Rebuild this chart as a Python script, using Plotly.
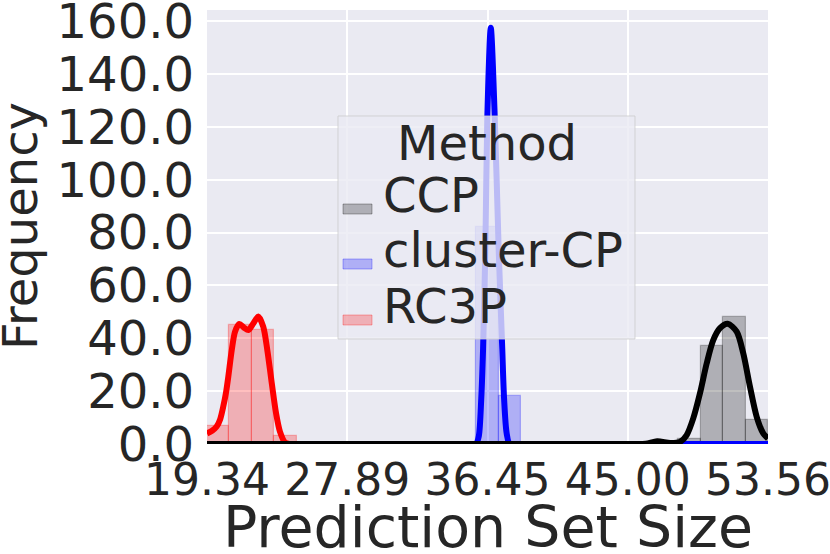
import numpy as np
import plotly.graph_objects as go

# ---------------- data ----------------
methods = ["CCP", "cluster-CP", "RC3P"]
line_colors = {"CCP": "#000000", "cluster-CP": "#0000FF", "RC3P": "#FF0000"}
fill_rgb = {"CCP": (0, 0, 0), "cluster-CP": (0, 0, 255), "RC3P": (255, 0, 0)}

x_min, x_max = 19.34, 53.56
n_bins = 25
x_tick_labels = ["19.34", "27.89", "36.45", "45.00", "53.56"]
y_tick_values = [0, 20, 40, 60, 80, 100, 120, 140, 160]
x_title = "Prediction Set Size"
y_title = "Frequency"
legend_title = "Method"

# histogram counts (per common bin, index -> count)
counts_ccp = {21: 2, 22: 37, 23: 48, 24: 9}
counts_cluster = {12: 82, 13: 18}
counts_rc3p = {0: 7, 1: 45, 2: 43, 3: 3}

# KDE curves
kde_ccp_x = [19.34, 30.0, 40.0, 44.5, 45.4, 46.1, 46.8, 47.6, 48.19, 48.6, 49.0, 49.41, 49.82,
             50.22, 50.63, 51.1, 51.65, 52.05, 52.46, 52.87, 53.27, 53.56]
kde_ccp_y = [0, 0, 0, 0, 0, 0.1, 1.0, 0.4, 0.8, 3.4, 9.7, 19.2, 30.5,
             39.3, 43.8, 45.5, 42.5, 34.3, 21.7, 10.3, 4.0, 2.1]

kde_cluster_x = [19.34, 28.0, 34.0, 35.2, 35.75, 35.92, 36.07, 36.18, 36.32, 36.44, 36.65,
                 36.89, 37.13, 37.35, 37.46, 37.62, 37.8, 38.3, 39.5, 46.0, 53.56]
kde_cluster_y = [0, 0, 0, 0, 0.1, 3, 17.3, 36, 74, 124, 157.5,
                 124, 74, 36, 17.3, 4, 0.1, 0, 0, 0, 0]

kde_rc3p_x = [19.34, 19.65, 19.93, 20.15, 20.33, 20.5, 20.64, 20.85, 21.05, 21.31, 21.6,
              21.86, 22.15, 22.47, 22.77, 23.02, 23.29, 23.55, 23.79, 24.10, 24.35, 24.9,
              26.0, 35.0, 45.0, 53.56]
kde_rc3p_y = [4.0, 5.0, 6.6, 9.5, 14.1, 19.5, 25.5, 35.5, 42.5, 45.4, 44.0,
              43.1, 45.5, 48.2, 44.4, 35.5, 23.0, 11.7, 4.7, 0.6, 0.05, 0,
              0, 0, 0, 0]

counts = {"CCP": counts_ccp, "cluster-CP": counts_cluster, "RC3P": counts_rc3p}
kdes = {"CCP": (kde_ccp_x, kde_ccp_y), "cluster-CP": (kde_cluster_x, kde_cluster_y),
        "RC3P": (kde_rc3p_x, kde_rc3p_y)}

# ---------------- figure ----------------
W, H = 830, 554
ML, MR, MT, MB = 207, 62, 10, 110
pw, ph = W - ML - MR, H - MT - MB


def px_x(p):
    return (p - ML) / pw


def px_y(p):
    return (H - MB - p) / ph


edges = np.linspace(x_min, x_max, n_bins + 1)
bw = edges[1] - edges[0]
centers = (edges[:-1] + edges[1:]) / 2

fig = go.Figure()
draw_order = ["RC3P", "cluster-CP", "CCP"]
for m in draw_order:
    r, g, b = fill_rgb[m]
    idx = sorted(counts[m].keys())
    fig.add_trace(go.Bar(
        x=[centers[i] for i in idx], y=[counts[m][i] for i in idx], width=bw,
        marker=dict(color=f"rgba({r},{g},{b},0.25)", line=dict(color=f"rgba({r},{g},{b},0.25)", width=1.2)),
        showlegend=False, name=m))
for m in draw_order:
    xs, ys = kdes[m]
    fig.add_trace(go.Scatter(x=xs, y=ys, mode="lines",
                             line=dict(color=line_colors[m], width=6, shape="spline", smoothing=0.8),
                             showlegend=False, name=m))

font_color = "#262626"
fig.update_layout(
    width=W, height=H,
    margin=dict(l=ML, r=MR, t=MT, b=MB, pad=0),
    paper_bgcolor="white", plot_bgcolor="#EAEAF2",
    barmode="overlay", bargap=0,
    font=dict(family="DejaVu Sans", color=font_color),
    xaxis=dict(range=[x_min, x_max], tickvals=list(np.linspace(x_min, x_max, 5)),
               ticktext=x_tick_labels, tickfont=dict(size=44, color=font_color),
               showgrid=True, gridcolor="white", gridwidth=2, zeroline=False, showline=False,
               ticks="", ticklabelstandoff=6, automargin=False, ticklabeloverflow="allow"),
    yaxis=dict(range=[0, 164.2], tickvals=y_tick_values, tickformat=".1f",
               tickfont=dict(size=48, color=font_color),
               showgrid=True, gridcolor="white", gridwidth=2, zeroline=False, showline=False,
               ticks="", ticklabelstandoff=12, automargin=False, ticklabeloverflow="allow"),
)

# axis titles
annotations = [
    dict(text=x_title, xref="paper", yref="paper", x=0.5, y=px_y(527),
         xanchor="center", yanchor="middle", showarrow=False,
         font=dict(size=57, color=font_color)),
    dict(text=y_title, xref="paper", yref="paper", x=px_x(20), y=px_y(226),
         xanchor="center", yanchor="middle", textangle=-90, showarrow=False,
         font=dict(size=48, color=font_color)),
]

# manual legend (matplotlib-style box on top of plot)
shapes = [dict(type="rect", xref="paper", yref="paper", layer="above",
               x0=px_x(338), x1=px_x(635), y0=px_y(339), y1=px_y(116),
               fillcolor="rgba(234,234,242,0.8)", line=dict(color="rgba(204,204,204,0.8)", width=1))]
annotations.append(dict(text=legend_title, xref="paper", yref="paper", x=px_x(487), y=px_y(143),
                        xanchor="center", yanchor="middle", showarrow=False,
                        font=dict(size=48, color=font_color)))
baselines = {"CCP": 212, "cluster-CP": 267, "RC3P": 323}
for m in methods:
    r, g, b = fill_rgb[m]
    bl = baselines[m]
    shapes.append(dict(type="rect", xref="paper", yref="paper", layer="above",
                       x0=px_x(343), x1=px_x(372), y0=px_y(bl + 2), y1=px_y(bl - 8),
                       fillcolor=f"rgba({r},{g},{b},0.25)",
                       line=dict(color=f"rgba({r},{g},{b},0.3)", width=1)))
    annotations.append(dict(text=m, xref="paper", yref="paper", x=px_x(381), y=px_y(bl - 17),
                            xanchor="left", yanchor="middle", showarrow=False,
                            font=dict(size=48, color=font_color)))
fig.update_layout(shapes=shapes, annotations=annotations)

fig.write_html("out.html", config={"displayModeBar": False},
               post_script="document.body.style.margin='0';document.body.style.overflow='hidden';")
